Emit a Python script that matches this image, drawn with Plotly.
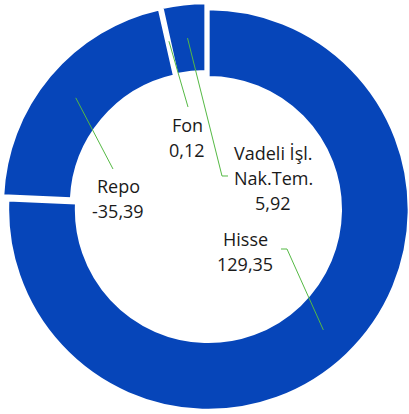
import math
import plotly.graph_objects as go

# ---- data ----
categories = ["Hisse", "Repo", "Fon", "Vadeli İşl. Nak.Tem."]
label_lines = [["Hisse"], ["Repo"], ["Fon"], ["Vadeli İşl.", "Nak.Tem."]]
values = [129.35, -35.39, 0.12, 5.92]

# ---- layout / style ----
W, H = 409, 414
BLUE = "#0645B9"
GREEN = "#55B944"
CLEAR = "rgba(0,0,0,0)"
CX, CY = 206.0, 207.0      # pie centre (px)
R = 200.5                  # outer radius (px)
HOLE = 0.66
EXPLODE = 3.5              # slice explosion (px)
EDGE_W = 2.5               # white slice border
FONT = "Open Sans"
FSIZE = 18
LINE_STEP = 25             # px between text lines

# label placement: centre x and first-line y (px); leader elbow/end points
label_pos = {
    "Hisse": (245.5, 238.5),
    "Repo": (118, 186),
    "Fon": (187, 124.5),
    "Vadeli İşl. Nak.Tem.": (273, 153),
}
leader_pts = {
    "Hisse": [(287, 249), (281, 249)],
    "Repo": [(113, 169)],
    "Fon": [(188, 107)],
    "Vadeli İşl. Nak.Tem.": [(222, 176), (228, 176)],
}

abs_vals = [abs(v) for v in values]
total = sum(abs_vals)
n = len(values)

fig = go.Figure()
shapes, annotations = [], []
r_mid = R * (1 + HOLE) / 2
cum = 0.0
for i, (cat, lines, v, av) in enumerate(zip(categories, label_lines, values, abs_vals)):
    frac = av / total
    theta = 2 * math.pi * (cum + frac / 2)
    cum += frac
    ux, uy = math.sin(theta), -math.cos(theta)   # screen direction (y down)
    ox, oy = CX + EXPLODE * ux, CY + EXPLODE * uy  # exploded slice centre

    colors = [BLUE if j == i else CLEAR for j in range(n)]
    lcolors = ["white" if j == i else CLEAR for j in range(n)]
    fig.add_trace(go.Pie(
        labels=categories, values=abs_vals, sort=False, direction="clockwise",
        rotation=0, hole=HOLE,
        marker=dict(colors=colors, line=dict(color=lcolors, width=EDGE_W)),
        textinfo="none", hoverinfo="label+value", showlegend=False,
        domain=dict(x=[(ox - R) / W, (ox + R) / W],
                    y=[1 - (oy + R) / H, 1 - (oy - R) / H]),
    ))

    sx, sy = ox + r_mid * ux, oy + r_mid * uy
    pts = [(sx, sy)] + leader_pts[cat]
    path = "M " + " L ".join(f"{x / W:.5f},{1 - y / H:.5f}" for x, y in pts)
    shapes.append(dict(type="path", xref="paper", yref="paper", path=path,
                       line=dict(color=GREEN, width=1)))

    lx, ly = label_pos[cat]
    num = f"{v:.2f}".replace(".", ",")
    for k, t in enumerate(lines + [num]):
        annotations.append(dict(
            x=lx / W, y=1 - (ly + k * LINE_STEP) / H, xref="paper", yref="paper",
            text=t, showarrow=False, xanchor="center", yanchor="middle",
            font=dict(family=FONT, size=FSIZE, color="#1a1a1a")))

fig.update_layout(
    width=W, height=H,
    margin=dict(l=0, r=0, t=0, b=0),
    paper_bgcolor="white",
    plot_bgcolor="white",
    shapes=shapes,
    annotations=annotations,
)

fig.write_html("out.html",
               config={"displayModeBar": False},
               post_script="document.body.style.margin='0';document.body.style.overflow='hidden';")
